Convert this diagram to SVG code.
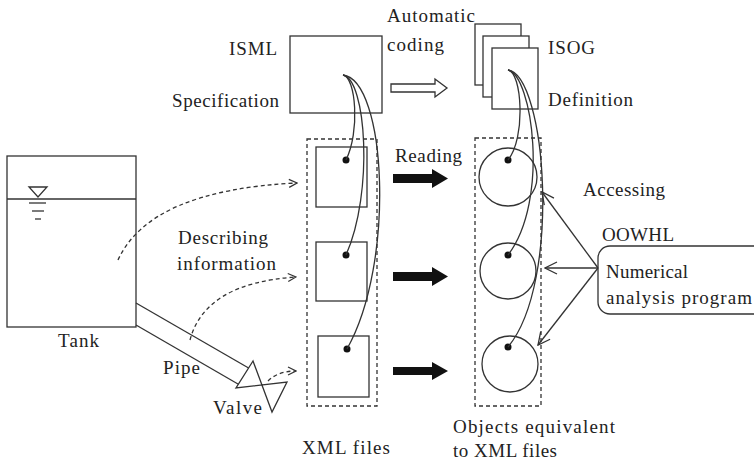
<svg xmlns="http://www.w3.org/2000/svg" width="754" height="465" viewBox="0 0 754 465">
  <defs>
    <style>
      .ln { fill: none; stroke: #333; stroke-width: 1.3; }
      .box { fill: #fff; stroke: #333; stroke-width: 1.3; }
      .dash { fill: none; stroke: #333; stroke-width: 1.3; stroke-dasharray: 4 3; }
      .blk { fill: #111; stroke: none; }
      .dot { fill: #111; }
      text { font-family: 'Liberation Serif', 'DejaVu Serif', 'Times New Roman', serif; font-size: 19px; fill: #222; }
    </style>
    <marker id="openHead" viewBox="0 0 10 10" refX="9" refY="5" markerWidth="10" markerHeight="10" markerUnits="userSpaceOnUse" orient="auto">
      <path d="M1,1 L9,5 L1,9" fill="none" stroke="#333" stroke-width="1.2"/>
    </marker>
    <marker id="accessHead" viewBox="0 0 14 14" refX="13" refY="7" markerWidth="14" markerHeight="14" markerUnits="userSpaceOnUse" orient="auto">
      <path d="M1,1 L13,7 L1,13" fill="none" stroke="#333" stroke-width="1.3"/>
    </marker>
  </defs>
  <rect width="754" height="465" fill="#fff"/>

  <!-- Tank with water level -->
  <g id="tank">
    <rect class="box" x="7" y="156" width="129" height="171"/>
    <line class="ln" x1="7" y1="199" x2="136" y2="199"/>
    <path class="ln" d="M29,187 L47,187 L38,197 Z"/>
    <line class="ln" x1="29" y1="203" x2="46" y2="203"/>
    <line class="ln" x1="32" y1="211" x2="44" y2="211"/>
    <line class="ln" x1="35" y1="219" x2="41" y2="219"/>
    <text x="58" y="347" textLength="41">Tank</text>
  </g>

  <!-- Pipe and valve -->
  <g id="pipe">
    <line class="ln" x1="136" y1="303" x2="248.6" y2="368"/>
    <line class="ln" x1="136" y1="325" x2="238.4" y2="384.2"/>
    <text x="163" y="374" textLength="37">Pipe</text>
  </g>
  <g id="valve">
    <path class="ln" d="M253,361 L236,388 L287,382 L272,412 Z"/>
    <text x="213" y="414" textLength="49">Valve</text>
  </g>

  <g id="describing-label">
    <text x="178" y="244" textLength="90">Describing</text>
    <text x="177" y="270" textLength="99">information</text>
  </g>

  <!-- ISML specification -->
  <g id="isml">
    <rect class="box" x="290" y="36" width="92" height="77"/>
    <text x="229" y="55" textLength="48">ISML</text>
    <text x="172" y="107" textLength="107">Specification</text>
  </g>

  <g id="auto-coding">
    <path class="ln" d="M391,84 L435,84 L435,79 L447,88 L435,97 L435,92 L391,92 Z"/>
    <text x="387" y="22" textLength="88">Automatic</text>
    <text x="387" y="51" textLength="57">coding</text>
  </g>

  <!-- ISOG definition (stacked pages) -->
  <g id="isog">
    <rect class="box" x="475" y="24" width="46" height="61"/>
    <rect class="box" x="483" y="36" width="46" height="61"/>
    <rect class="box" x="492" y="48" width="46" height="61"/>
    <text x="548" y="54" textLength="47">ISOG</text>
    <text x="548" y="106" textLength="85">Definition</text>
  </g>

  <!-- XML files -->
  <g id="xml-files">
    <rect class="dash" x="307" y="139" width="70" height="267"/>
    <rect class="box" x="316" y="147" width="51" height="60"/>
    <rect class="box" x="316" y="242" width="51" height="59"/>
    <rect class="box" x="318" y="336" width="51" height="61"/>
    <circle class="dot" cx="346" cy="160" r="3.5"/>
    <circle class="dot" cx="346" cy="255" r="3.5"/>
    <circle class="dot" cx="347" cy="349" r="3.5"/>
    <text x="302" y="454" textLength="88">XML files</text>
  </g>

  <!-- Objects equivalent to XML files -->
  <g id="objects">
    <rect class="dash" x="475" y="138" width="66" height="268"/>
    <circle class="box" cx="508" cy="177" r="29"/>
    <circle class="box" cx="508" cy="271" r="28"/>
    <circle class="box" cx="510" cy="364" r="28"/>
    <circle class="dot" cx="508" cy="160" r="3.5"/>
    <circle class="dot" cx="508" cy="255" r="3.5"/>
    <circle class="dot" cx="508" cy="347" r="3.5"/>
    <text x="453" y="433" textLength="162">Objects equivalent</text>
    <text x="453" y="457" textLength="104">to XML files</text>
  </g>

  <!-- OOWHL numerical analysis program -->
  <g id="oowhl">
    <rect class="box" x="598" y="246" width="170" height="68" rx="12"/>
    <text x="602" y="241" textLength="72">OOWHL</text>
    <text x="606" y="278" textLength="82">Numerical</text>
    <text x="606" y="304" textLength="146">analysis program</text>
  </g>

  <g id="labels">
    <text x="395" y="162" textLength="67">Reading</text>
    <text x="583" y="196" textLength="82">Accessing</text>
  </g>

  <!-- Connectors -->
  <g id="connectors">
    <!-- describing information (dashed) -->
    <path class="dash" d="M118,260 Q150,190 297,183" marker-end="url(#openHead)"/>
    <path class="dash" d="M190,340 Q205,283 296,277" marker-end="url(#openHead)"/>
    <path class="dash" d="M268,381 Q278,371 296,371" marker-end="url(#openHead)"/>

    <!-- specification links to each XML file -->
    <path class="ln" d="M343,75 C356,77 360,132 346,160"/>
    <path class="ln" d="M343,75 C366,79 374,192 346,255"/>
    <path class="ln" d="M343,75 C386,80 396,262 347,349"/>

    <!-- definition links to each object -->
    <path class="ln" d="M508,70 C522,72 526,138 508,160"/>
    <path class="ln" d="M508,70 C532,75 550,200 508,255"/>
    <path class="ln" d="M508,70 C546,75 562,282 508,347"/>

    <!-- reading arrows -->
    <path class="blk" d="M393,174 L432,174 L432,169 L448,178.5 L432,188 L432,183 L393,183 Z"/>
    <path class="blk" d="M393,272 L432,272 L432,267 L448,276.5 L432,286 L432,281 L393,281 Z"/>
    <path class="blk" d="M393,367 L432,367 L432,362 L448,371 L432,380 L432,375 L393,375 Z"/>

    <!-- accessing arrows -->
    <line class="ln" x1="598" y1="268" x2="542" y2="192" marker-end="url(#accessHead)"/>
    <line class="ln" x1="598" y1="268" x2="545" y2="268" marker-end="url(#accessHead)"/>
    <line class="ln" x1="598" y1="268" x2="538" y2="345" marker-end="url(#accessHead)"/>
  </g>
</svg>
